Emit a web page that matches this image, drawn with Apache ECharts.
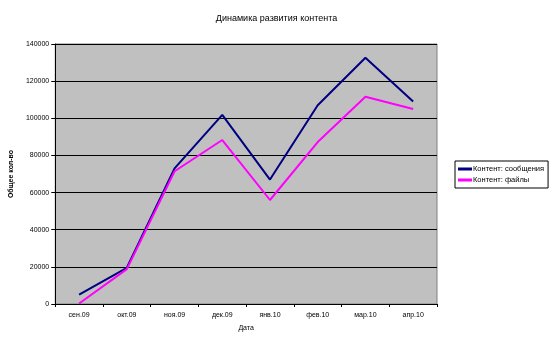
<!DOCTYPE html>
<html><head><meta charset="utf-8">
<script src="https://cdn.jsdelivr.net/npm/echarts@6/dist/echarts.min.js"></script>
<style>html,body{margin:0;padding:0;background:#fff}#c{width:553px;height:344px}</style>
</head><body><div id="c"></div>
<script>
const categories = ['сен.09','окт.09','ноя.09','дек.09','янв.10','фев.10','мар.10','апр.10'];
const messages = [5000, 19500, 73000, 101800, 67000, 107000, 132600, 109000];
const files = [300, 18800, 71500, 88300, 56000, 87200, 111600, 105000];
const yTicks = [0, 20000, 40000, 60000, 80000, 100000, 120000, 140000];

const chart = echarts.init(document.getElementById('c'), null, {renderer:'canvas'});
const font = 'Liberation Sans, Arial, sans-serif';
chart.setOption({
  animation:false,
  backgroundColor:'#fff',
  title:{text:'Динамика развития контента', left:'center', top:9,
    textStyle:{fontFamily:font, fontSize:9, fontWeight:'normal', color:'#000'}},
  grid:{left:54, right:116, top:44, bottom:40, show:true, backgroundColor:'#C0C0C0', borderColor:'#808080', borderWidth:1},
  legend:{orient:'vertical', left:455, top:161, padding:[4,4,4,3], itemGap:3,
    backgroundColor:'#fff', borderColor:'#000', borderWidth:1,
    itemWidth:14, itemHeight:3, icon:'rect',
    textStyle:{fontFamily:font, fontSize:7.5, color:'#000', padding:[0,0,0,-4]},
    data:['Контент: сообщения','Контент: файлы']},
  xAxis:{type:'category', data:categories, boundaryGap:true,
    name:'Дата', nameLocation:'middle', nameGap:21,
    nameTextStyle:{fontFamily:font, fontSize:7, color:'#000'},
    axisLine:{lineStyle:{color:'#000', width:1}},
    axisTick:{show:true, length:3, lineStyle:{color:'#000'}},
    axisLabel:{fontFamily:font, fontSize:7, color:'#000', margin:8},
    splitLine:{show:false}},
  yAxis:{type:'value', min:0, max:140000, interval:20000,
    name:'Общее кол-во', nameLocation:'middle', nameGap:34, nameRotate:90,
    nameTextStyle:{fontFamily:font, fontSize:7, fontWeight:'bold', color:'#000'},
    axisLine:{show:true, lineStyle:{color:'#000', width:1}},
    axisTick:{show:true, length:4, lineStyle:{color:'#000'}},
    axisLabel:{fontFamily:font, fontSize:7, color:'#000', margin:6,
      formatter:v=>yTicks.includes(v)?String(v):''},
    splitLine:{show:true, lineStyle:{color:'#000', width:1}}},
  series:[
    {name:'Контент: сообщения', type:'line', data:messages, symbol:'none',
      lineStyle:{color:'#000080', width:2}, itemStyle:{color:'#000080'}},
    {name:'Контент: файлы', type:'line', data:files, symbol:'none',
      lineStyle:{color:'#FF00FF', width:2}, itemStyle:{color:'#FF00FF'}}
  ]
});
</script></body></html>
